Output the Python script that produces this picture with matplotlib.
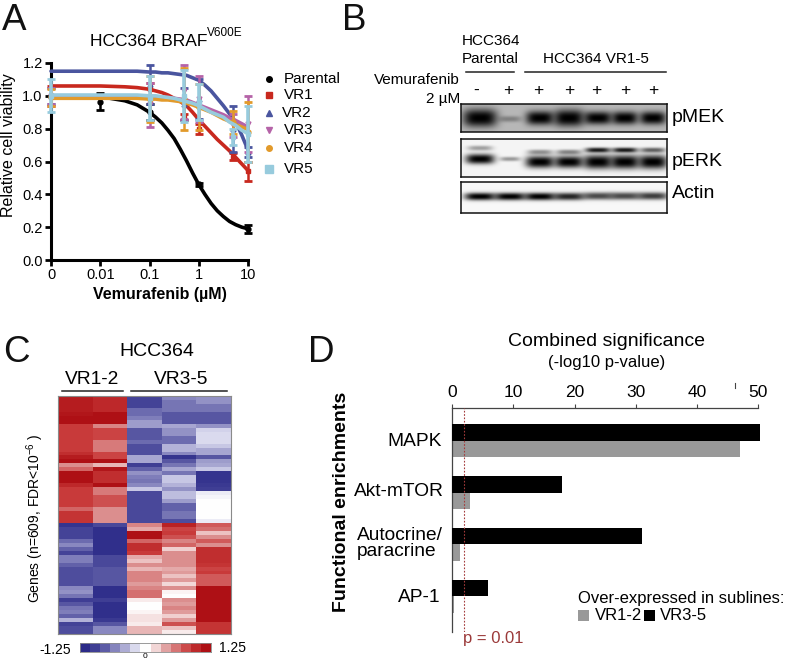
import numpy as np
import matplotlib
matplotlib.use('Agg')
import matplotlib.pyplot as plt
from matplotlib.colors import LinearSegmentedColormap
from matplotlib.patches import Rectangle

plt.rcParams['font.family'] = ['Liberation Sans', 'DejaVu Sans']
plt.rcParams['mathtext.fontset'] = 'custom'
plt.rcParams['mathtext.rm'] = 'Liberation Sans'
plt.rcParams['mathtext.default'] = 'regular'

W, H = 786, 662

# ---------- Panel A data ----------
series_names = ['Parental', 'VR1', 'VR2', 'VR3', 'VR4', 'VR5']
dose_ticks = [-3, -2, -1, 0, 1]
dose_labels = ['0', '0.01', '0.1', '1', '10']
curve_x = [-3, -2, -1.5, -1.25, -1, -.875, -.75, -.625, -.5, -.375, -.25, -.125, 0, .125, .25, .375, .5, .625, .75, .875, 1]
curve_parental = [1.0, .995, .97, .945, .90, .87, .835, .79, .74, .675, .605, .53, .46, .40, .345, .30, .265, .235, .215, .20, .19]
curve_vr1 = [1.06, 1.06, 1.055, 1.05, 1.04, 1.03, 1.02, 1.005, .985, .965, .94, .90, .855, .815, .775, .735, .70, .665, .625, .585, .545]
curve_vr2 = [1.15, 1.15, 1.15, 1.15, 1.145, 1.145, 1.14, 1.14, 1.135, 1.13, 1.125, 1.11, 1.095, 1.065, 1.03, .985, .94, .89, .84, .76, .67]
curve_vr3 = [1.0, 1.0, 1.0, 1.0, .995, .995, .99, .99, .985, .98, .975, .96, .945, .93, .915, .90, .885, .865, .85, .83, .81]
curve_vr4 = [.985, .985, .985, .985, .98, .98, .975, .975, .97, .965, .955, .945, .93, .915, .90, .88, .86, .845, .825, .81, .795]
curve_vr5 = [1.005, 1.005, 1.005, 1.005, 1.0, 1.0, .995, .99, .985, .975, .965, .955, .94, .92, .90, .885, .87, .84, .82, .79, .77]
err_x_parental = [-2, -1, 0, 1]
err_x = [-3, -1, -.301, 0, .699, 1]
parental_mid = [.965, .90, .46, .19]
parental_lo = [.915, .85, .45, .165]
parental_hi = [1.015, .95, .47, .215]
vr1_mid = [1.0, 1.04, .87, .80, .63, .54]
vr1_lo = [.94, 1.0, .85, .77, .61, .48]
vr1_hi = [1.06, 1.08, .89, .83, .65, .60]
vr2_mid = [1.0, 1.07, .95, .98, .80, .66]
vr2_lo = [.95, .95, .85, .86, .66, .63]
vr2_hi = [1.05, 1.19, 1.05, 1.10, .94, .69]
vr3_mid = [1.0, .95, 1.03, .98, .82, .83]
vr3_lo = [.95, .81, .86, .84, .75, .66]
vr3_hi = [1.05, 1.08, 1.19, 1.12, .89, 1.0]
vr4_mid = [.99, .98, .98, .93, .84, .78]
vr4_lo = [.94, .84, .79, .79, .77, .60]
vr4_hi = [1.04, 1.12, 1.17, 1.07, .91, .96]
vr5_mid = [1.0, .985, 1.0, .96, .75, .77]
vr5_lo = [.90, .85, .84, .85, .70, .60]
vr5_hi = [1.10, 1.12, 1.16, 1.07, .80, .94]

# ---------- Panel B data ----------
lane_x = [480, 510, 540, 569, 598, 625, 653]
lane_signs = ['-', '+', '+', '+', '+', '+', '+']
pmek_strength = [1.0, .30, 1.0, 1.0, 1.0, 1.0, 1.0]
pmek_halfwidth = [17, 11, 14, 15, 14, 13, 13]
pmek_halfheight = [9, 3, 7, 8.5, 6.5, 6.5, 6.5]
perk_up_strength = [.35, .0, .40, .45, .90, .90, .60]
perk_low_strength = [1.0, .38, 1.0, 1.0, 1.0, 1.0, 1.0]
perk_low_halfheight = [5, 2.2, 6, 6, 7, 7, 7]
actin_strength = [1.0, 1.0, 1.0, .85, .70, .70, .75]

# ---------- Panel C data ----------
col1 = [1.15,1.15,1.15,1.15,1.2,1.25,1.25,.9,.9,.9,.9,.9,.9,.9,1.0,1.15,1.25,.5,.7,1.25,1.25,1.25,1.05,.9,.9,.9,.9,.9,.7,.95,.95,.95,
        -1.15,-1,-1,-1,-.75,-.6,-.8,-1,-.65,-.65,-.8,-.9,-.9,-.9,-.9,-.9,-.6,-.55,-.7,-1.05,-.85,-.7,-.65,-.8,-.4,-1,-.9,-.9]
col2 = [1.05,1.05,1.05,1.05,1.25,1.25,1.25,.55,.85,.85,.85,.6,.6,.6,.85,.85,1.25,.35,1.2,1.0,1.0,1.0,1.25,.6,.6,.8,.8,.8,.5,.5,.5,.5,
        -.95,-1.2,-1.2,-1.2,-1.2,-1.2,-1.2,-1.2,-.95,-.95,-.95,-.85,-.85,-.85,-.85,-.85,-1.2,-1.2,-1.2,-1.05,-1.2,-1.2,-1.2,-1.2,-1.1,-.85,-.6,-.6]
col3 = [-1,-1,-1,-.75,-.75,-.65,-.5,-.5,-.85,-.85,-.85,-.75,-.9,-.9,-.9,-.45,-.45,-1.05,-.8,-.55,-.65,-.7,-.6,-.3,-.95,-.95,-.95,-.95,-.95,-.95,-.95,-.95,
        .55,.4,1.25,1.25,.7,1.0,1.0,.9,.4,.3,.5,.35,.55,.55,.55,.45,.55,.65,.65,.1,0,0,.05,.15,.15,.1,.35,.35]
col4 = [-.6,-.7,-.7,-.7,-.85,-.85,-.85,-.45,-.55,-.55,-.75,-.75,-.4,-.4,-.6,-1.15,-.85,-.7,-.45,-.7,-.3,-.3,-.4,-.55,-.35,-.35,-.5,-.8,-.8,-.7,-.7,-.9,
        1.1,.85,.9,.8,.55,.7,.25,.5,.5,.5,.5,.4,.45,.3,.45,.2,.5,.05,0,.5,.45,.55,.45,.25,.45,.8,.3,.1]
col5 = [-.55,-.55,-.7,-.7,-.85,-.85,-.85,-.55,-.25,-.2,-.2,-.2,-.3,-.45,-.45,-.85,-.5,-.45,-.3,-1.15,-1.15,-1.15,-1.1,-1.05,-.1,-.05,0,0,0,0,0,-.1,
        .75,.65,.3,.5,.75,.5,1.0,1.0,1.0,1.0,.95,.85,.9,.75,.75,.75,1.25,1.25,1.25,1.25,1.25,1.25,1.25,1.25,1.25,.95,.95,.95]
cbar_levels = [-1.25,-1.04,-.83,-.62,-.42,-.21,0,.21,.42,.62,.83,1.04,1.25]

# ---------- Panel D data ----------
pathways = ['MAPK', 'Akt-mTOR', 'Autocrine/\nparacrine', 'AP-1']
vr35_sig = [50.3, 18, 31, 5.8]
vr12_sig = [47, 3, 1.3, 0.3]
sig_ticks = [0, 10, 20, 30, 40, 50]
p_threshold = 2

fig = plt.figure(figsize=(W/100, H/100), dpi=100, facecolor='white')

def axpx(l, t, r, b, **kw):
    return fig.add_axes([l/W, 1-b/H, (r-l)/W, (b-t)/H], **kw)

def txt(x, y, s, size=10, ha='left', va='center', **kw):
    return fig.text(x/W, 1-y/H, s, fontsize=size, ha=ha, va=va, **kw)

for (x, y, s) in [(2, 21, 'A'), (342, 21, 'B'), (3, 353, 'C'), (308, 353, 'D')]:
    txt(x, y, s, size=26.5, color='#111111')

# ---------- Panel A ----------
axA = axpx(51, 63, 248, 260)
axA.set_xlim(-3, 1); axA.set_ylim(0, 1.2)
colors = ['#000000', '#C8281E', '#4A559F', '#B563A8', '#E29A2B', '#97CBDD']
markers = ['o', 's', '^', 'v', 'o', 's']
curves = [curve_parental, curve_vr1, curve_vr2, curve_vr3, curve_vr4, curve_vr5]
mids = [parental_mid, vr1_mid, vr2_mid, vr3_mid, vr4_mid, vr5_mid]
los = [parental_lo, vr1_lo, vr2_lo, vr3_lo, vr4_lo, vr5_lo]
his = [parental_hi, vr1_hi, vr2_hi, vr3_hi, vr4_hi, vr5_hi]
for i in range(6):
    xs = err_x_parental if i == 0 else err_x
    mid, lo, hi = np.array(mids[i]), np.array(los[i]), np.array(his[i])
    lw = 2.6 if i == 5 else 1.8
    axA.errorbar(xs, mid, yerr=[mid-lo, hi-mid], fmt=markers[i], ms=3.5, color=colors[i],
                 elinewidth=lw, capsize=3.2, capthick=2.0, clip_on=False, zorder=3+i)
    axA.plot(curve_x, curves[i], color=colors[i], lw=2.6, clip_on=False, zorder=3+i,
             solid_capstyle='round', solid_joinstyle='round')
for s in ['top', 'right']:
    axA.spines[s].set_visible(False)
for s in ['left', 'bottom']:
    axA.spines[s].set_linewidth(2.2)
axA.set_xticks(dose_ticks); axA.set_xticklabels(dose_labels, fontsize=10.5)
axA.set_yticks(np.arange(0, 1.21, .2))
axA.set_yticklabels(['%.1f' % v for v in np.arange(0, 1.21, .2)], fontsize=10.5)
axA.tick_params(width=2, length=4, pad=2)
txt(9, 145, 'Relative cell viability', size=11.5, ha='center', rotation=90)
txt(160, 294, 'Vemurafenib (µM)', size=11.5, ha='center', fontweight='bold')
txt(90, 41, 'HCC364 BRAF', size=12.5)
txt(207, 33, 'V600E', size=8.5)
leg_y = [79, 95, 113, 130, 148, 169]
leg_tx = [284, 284, 282, 284, 284, 284]
lax = axpx(0, 0, W, H); lax.set_xlim(0, W); lax.set_ylim(H, 0); lax.axis('off'); lax.patch.set_alpha(0)
for i, n in enumerate(series_names):
    lax.plot([269], [leg_y[i]], markers[i], color=colors[i], ms=4 if i < 5 else 5.5, clip_on=False)
    txt(leg_tx[i], leg_y[i], n, size=11)

# ---------- Panel B ----------
def blot(l, t, r, b, bg, bands):
    h, w = b-t, r-l
    yy, xx = np.mgrid[t:b:h*3j, l:r:w*3j]
    dark = np.zeros_like(xx)
    for (cx, cy, hw, hh, s) in bands:
        d = s*np.exp(-np.abs((xx-cx)/hw)**3.5 - np.abs((yy-cy)/hh)**2.4)
        dark = 1-(1-dark)*(1-d)
    im = bg*(1-dark)
    ax = axpx(l, t, r, b)
    ax.imshow(im, cmap='gray', vmin=0, vmax=1, aspect='auto', extent=[l, r, b, t], interpolation='bilinear')
    ax.set_xticks([]); ax.set_yticks([])
    for s in ax.spines.values():
        s.set_linewidth(1.1); s.set_color('#111111')

blot(461, 104, 667, 132, .72,
     [(lane_x[i], 118 if i != 1 else 119, pmek_halfwidth[i], pmek_halfheight[i], pmek_strength[i]) for i in range(7)])
bandsE = []
for i in range(7):
    uy = 148 if i == 0 else (152 if i in (2, 3) else 150)
    ly = 159 if i in (0, 1) else 162
    if perk_up_strength[i] > 0:
        bandsE.append((lane_x[i], uy, 12.5, 2.5, perk_up_strength[i]))
    bandsE.append((lane_x[i], ly, 14.5 if i != 1 else 10, perk_low_halfheight[i], perk_low_strength[i]))
blot(461, 139, 667, 177, .96, bandsE)
blot(461, 182, 667, 213, .97,
     [(lane_x[i], 196.5 if i < 4 else 196, 15.5, 3.8, actin_strength[i]) for i in range(7)])
lax.plot([466, 514], [72, 72], color='#222222', lw=1.1)
lax.plot([525, 666], [72, 72], color='#222222', lw=1.1)
txt(462, 41, 'HCC364', size=11)
txt(462, 59, 'Parental', size=11)
txt(596, 59, 'HCC364 VR1-5', size=11, ha='center')
txt(460, 80, 'Vemurafenib', size=11, ha='right')
txt(460, 99, '2 µM', size=11, ha='right')
sign_x = [476, 508, 538, 569, 596, 625, 653]
for x, s in zip(sign_x, lane_signs):
    txt(x, 90, s, size=12.5, ha='center')
txt(672, 118, 'pMEK', size=14)
txt(672, 161, 'pERK', size=14)
txt(672, 194, 'Actin', size=14)

# ---------- Panel C ----------
cmap = LinearSegmentedColormap.from_list('rb', [
    (0.0, '#2B2A88'), (0.14, '#4F4E9E'), (0.30, '#9E9DCC'), (0.40, '#D2D2EA'), (0.5, '#FFFFFF'),
    (0.60, '#F0CFCF'), (0.70, '#DC9090'), (0.86, '#C93B3B'), (1.0, '#AE1015')])
axC = axpx(58, 396, 231, 634)
axC.imshow(np.array([col1, col2, col3, col4, col5]).T, cmap=cmap, vmin=-1.25, vmax=1.25,
           aspect='auto', interpolation='nearest')
axC.set_xticks([]); axC.set_yticks([])
for s in axC.spines.values():
    s.set_linewidth(.8); s.set_color('#8a8a8a')
axCb = axpx(80, 643, 211, 652)
axCb.imshow(np.array([cbar_levels]), cmap=cmap, vmin=-1.25, vmax=1.25, aspect='auto', interpolation='nearest')
axCb.set_xticks([]); axCb.set_yticks([])
for s in axCb.spines.values():
    s.set_linewidth(.6); s.set_color('#8a8a8a')
txt(157, 351, 'HCC364', size=14, ha='center')
txt(92, 380, 'VR1-2', size=13.8, ha='center')
txt(181, 380, 'VR3-5', size=13.8, ha='center')
lax.plot([62, 123], [391, 391], color='#222222', lw=1.1)
lax.plot([131, 227], [391, 391], color='#222222', lw=1.1)
txt(35, 518, r'Genes (n=609, FDR<10$^{-6}$ )', size=10, ha='center', rotation=90)
txt(71, 650, '-1.25', size=10, ha='right')
txt(219, 648, '1.25', size=10)
txt(145, 657, '0', size=6, ha='center')

# ---------- Panel D ----------
axD = axpx(452, 408, 758.3, 632)
axD.set_xlim(0, 50)
axD.set_ylim(4.32-.632, -.632)
ypos = np.arange(len(pathways))
axD.barh(ypos-.16, vr35_sig, height=.32, color='black', clip_on=False, zorder=3)
axD.barh(ypos+.16, vr12_sig, height=.32, color='#999999', clip_on=False, zorder=2)
axD.axvline(p_threshold, color='#A33A3A', lw=.8, ls=(0, (1.5, 1.5)), zorder=4)
axD.xaxis.tick_top()
axD.set_xticks(sig_ticks)
axD.set_xticklabels([str(v) for v in sig_ticks], fontsize=12.5)
axD.set_yticks([])
axD.tick_params(axis='x', length=3, width=.8, pad=3, color='#444444')
for s in ['right', 'bottom']:
    axD.spines[s].set_visible(False)
for s in ['top', 'left']:
    axD.spines[s].set_linewidth(.9); axD.spines[s].set_color('#444444')
axD.patch.set_alpha(0)
lax.plot([735, 735], [383, 388], color='#444444', lw=.8)
txt(607, 341, 'Combined significance', size=14, ha='center')
txt(607, 362, '(-log10 p-value)', size=12, ha='center')
txt(442, 441, pathways[0], size=13.8, ha='right')
txt(444, 492, pathways[1], size=13.8, ha='right')
a, b = pathways[2].split('\n')
txt(357, 536, a, size=13.8)
txt(357, 552, b, size=13.8)
txt(440, 598, pathways[3], size=13.8, ha='right')
txt(342, 502, 'Functional enrichments', size=14, ha='center', rotation=90, fontweight='bold')
txt(578, 599, 'Over-expressed in sublines:', size=12)
lax.add_patch(Rectangle((578, 610), 11, 11, color='#999999', lw=0))
lax.add_patch(Rectangle((644, 610), 11, 11, color='#000000', lw=0))
txt(595, 615, 'VR1-2', size=12)
txt(660, 615, 'VR3-5', size=12)
txt(463, 638, 'p = 0.01', size=12, color='#9B3A3A')

fig.savefig('out.png', dpi=100)
